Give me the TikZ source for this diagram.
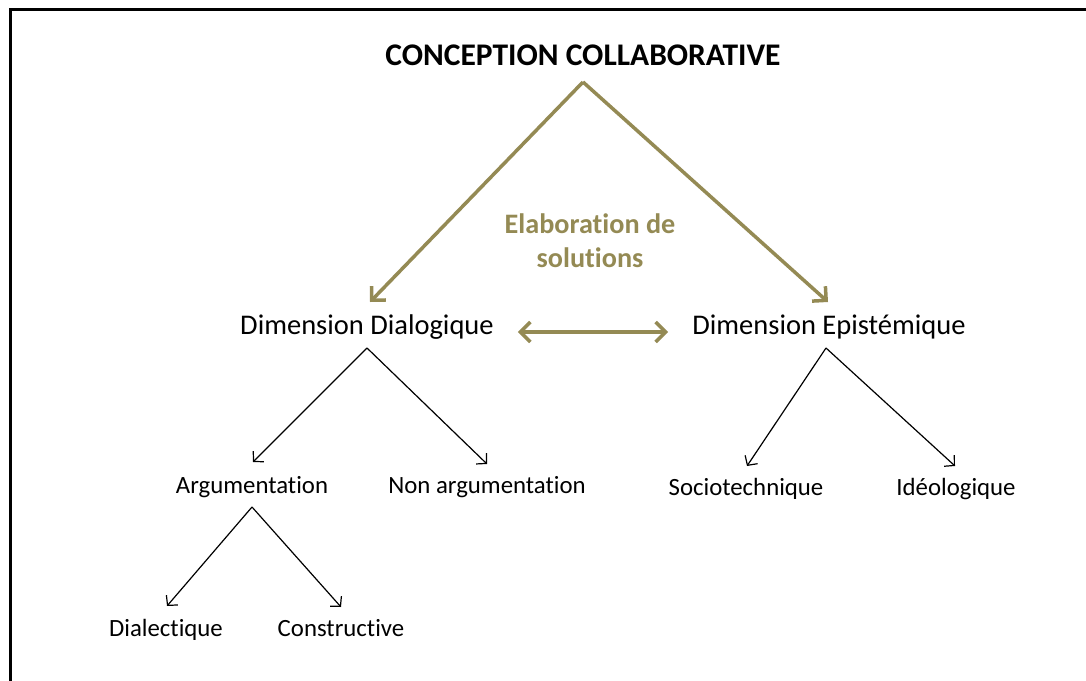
\documentclass[tikz,border=0pt]{standalone}
\usepackage{fontspec}
\setmainfont{Carlito}[Ligatures={NoCommon}]
\usetikzlibrary{arrows.meta}
\definecolor{olive}{RGB}{148,138,84}
\begin{document}
\begin{tikzpicture}[x=1pt,y=-1pt,
  lbl/.style={anchor=base,inner sep=0pt,font=\fontsize{24.8}{28}\selectfont},
  lbltwo/.style={anchor=base,inner sep=0pt,font=\fontsize{28.5}{32}\selectfont},
  elab/.style={anchor=base,inner sep=0pt,font=\fontsize{28.2}{32}\selectfont\bfseries,text=olive},
  olv/.style={draw=olive,line width=3.5pt,-{Straight Barb[length=10pt,width=20pt,line width=3.5pt]}},
  blk/.style={draw=black,line width=1.2pt,-{Straight Barb[length=7pt,width=15pt,line width=1.2pt]}}]
\useasboundingbox (0,0) rectangle (1086,680);
\begin{scope}
\clip (0,0) rectangle (1086,680);
\draw[line width=3pt] (10,690) -- (10,9) -- (1096,9);
\end{scope}
\node[anchor=base,inner sep=0pt,font=\fontsize{31.5}{36}\selectfont\bfseries] (title) at (583,65) {CONCEPTION COLLABORATIVE};
\node[elab] (elab1) at (590,233) {Elaboration de};
\node[elab] (elab2) at (590,267) {solutions};
\node[lbltwo] (dd) at (367,334) {Dimension Dialogique};
\node[lbltwo] (de) at (829,334) {Dimension Epistémique};
\node[lbl] (arg) at (252,493) {Argumentation};
\node[lbl] (nonarg) at (487,493) {Non argumentation};
\node[lbl] (soc) at (746,495) {Sociotechnique};
\node[lbl] (ideo) at (956,495) {Idéologique};
\node[lbl] (dia) at (166,636) {Dialectique};
\node[lbl] (cons) at (341,636) {Constructive};
% olive arrows
\draw[olv] ([yshift=-17pt]title.base) -- ([xshift=3pt,yshift=32pt]dd.base);
\draw[olv] ([yshift=-17pt]title.base) -- ([xshift=-1pt,yshift=32pt]de.base);
\draw[draw=olive,line width=3.5pt,{Straight Barb[length=10pt,width=20pt,line width=3.5pt]}-{Straight Barb[length=10pt,width=20pt,line width=3.5pt]}]
  ([xshift=24pt,yshift=2pt]dd.base east) -- ([xshift=-24pt,yshift=2pt]de.base west);
% black arrows
\draw[blk] ([yshift=-14pt]dd.base) -- ([xshift=1pt,yshift=31pt]arg.base);
\draw[blk] ([yshift=-14pt]dd.base) -- ([yshift=29pt]nonarg.base);
\draw[blk] ([xshift=-3pt,yshift=-14pt]de.base) -- ([xshift=1pt,yshift=29pt]soc.base);
\draw[blk] ([xshift=-3pt,yshift=-14pt]de.base) -- ([xshift=-1pt,yshift=29pt]ideo.base);
\draw[blk] ([yshift=-14pt]arg.base) -- ([xshift=1pt,yshift=30pt]dia.base);
\draw[blk] ([yshift=-14pt]arg.base) -- ([yshift=29pt]cons.base);
\end{tikzpicture}
\end{document}
